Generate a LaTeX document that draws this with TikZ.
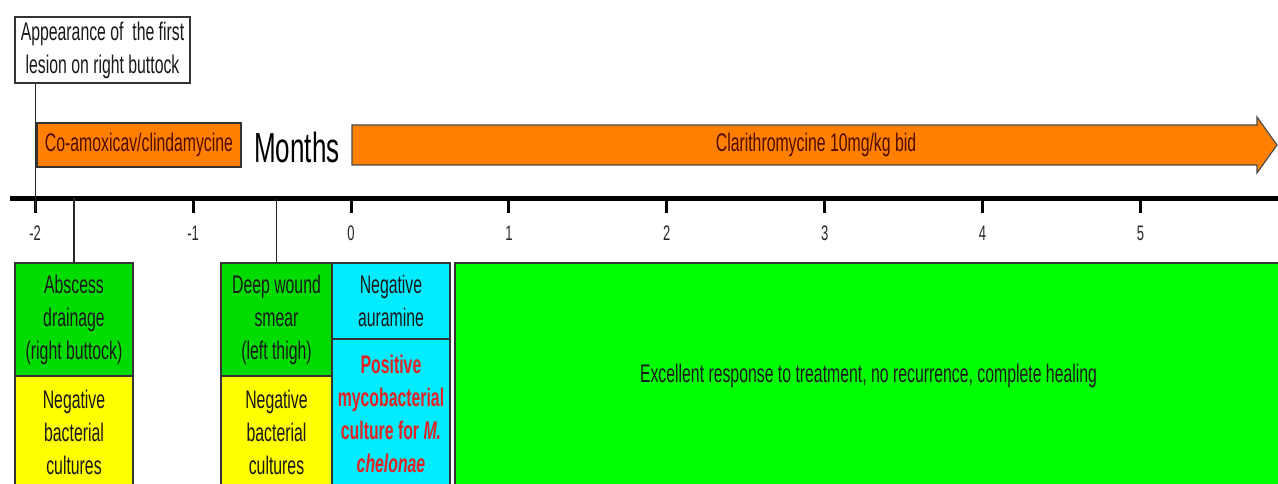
\documentclass[tikz,border=0pt]{standalone}
\usepackage{fontspec}
\setmainfont[FakeStretch=0.62]{Liberation Sans}
\usetikzlibrary{calc}
\definecolor{orangeC}{RGB}{255,128,0}
\definecolor{brownT}{RGB}{80,10,0}
\definecolor{greenS}{RGB}{0,220,0}
\definecolor{greenB}{RGB}{0,255,0}
\definecolor{cyanC}{RGB}{0,236,255}
\definecolor{yellowC}{RGB}{255,255,0}
\definecolor{redT}{RGB}{225,35,35}
\tikzset{
  box/.style={draw=black!80, line width=1.2pt, inner sep=0pt, align=center,
    font=\fontsize{25.5}{33}\selectfont, text=black!90},
  conn/.style={draw=black!85, line width=1.3pt},
  ticklab/.style={font=\fontsize{21}{22}\selectfont, inner sep=0pt, text=black!85},
}
\begin{document}
\begin{tikzpicture}[x=1pt,y=-1pt]
\useasboundingbox (0,0) rectangle (1278,484);
% axis
\coordinate (axL) at (10,198.5);
\coordinate (axR) at (1280,198.5);
\draw[line width=5pt] (axL) -- (axR);
\foreach \k in {-2,-1,0,1,2,3,4,5}{
  \coordinate (t\k) at ({351+157.9*\k},198.5);
  \draw[line width=3pt] (t\k) -- ++(0,15);
  \node[ticklab] (tl\k) at ($(t\k)+(0,35)$) {\k};
}
% top box
\node[box, fill=white, minimum width=175pt, minimum height=66pt] (app) at (102.5,50)
  {Appearance of\ \ the first\\lesion on right buttock};
% co-amox
\node[box, fill=orangeC, text=brownT, minimum width=204pt, minimum height=44pt] (coam) at (139,145)
  {Co-amoxicav/clindamycine};
\node[font=\fontsize{42}{44}\selectfont, inner sep=0pt] (months) at (297,147) {Months};
% clarithromycine arrow
\draw[draw=black!70, line width=1.2pt, fill=orangeC]
  (352,125) -- (1257,125) -- (1257,117) -- (1277,145) -- (1257,173) -- (1257,165) -- (352,165) -- cycle;
\node[text=brownT, font=\fontsize{25.5}{33}\selectfont, inner sep=0pt] (clar) at (816,145)
  {Clarithromycine 10mg/kg bid};
% bottom boxes
\node[box, fill=greenS, minimum width=118pt, minimum height=113pt] (abs) at (74,319.5)
  {Abscess\\drainage\\(right buttock)};
\node[box, fill=yellowC, minimum width=118pt, minimum height=112pt] (neg1) at (74,432)
  {Negative\\bacterial\\cultures};
\node[box, fill=greenS, minimum width=111pt, minimum height=113pt] (deep) at (276.5,319.5)
  {Deep wound\\smear\\(left thigh)};
\node[box, fill=yellowC, minimum width=111pt, minimum height=112pt] (neg2) at (276.5,432)
  {Negative\\bacterial\\cultures};
\node[box, fill=cyanC, minimum width=118pt, minimum height=76pt] (aur) at (391,301)
  {Negative\\auramine};
\node[box, fill=cyanC, text=redT, minimum width=118pt, minimum height=149pt] (pos) at (391,413.5)
  {\bfseries Positive\\\bfseries mycobacterial\\\bfseries culture for \textit{M.}\\\bfseries\itshape chelonae};
\node[box, fill=greenB, minimum width=827pt, minimum height=225pt] (exc) at (868.5,375.5)
  {Excellent response to treatment, no recurrence, complete healing};
% connectors
\draw[conn] (app.south -| t-2) -- ($(t-2)+(0,14)$);
\draw[conn] (abs.north) -- (abs.north |- axL);
\draw[conn] (deep.north) -- (deep.north |- axL);
\end{tikzpicture}
\end{document}
